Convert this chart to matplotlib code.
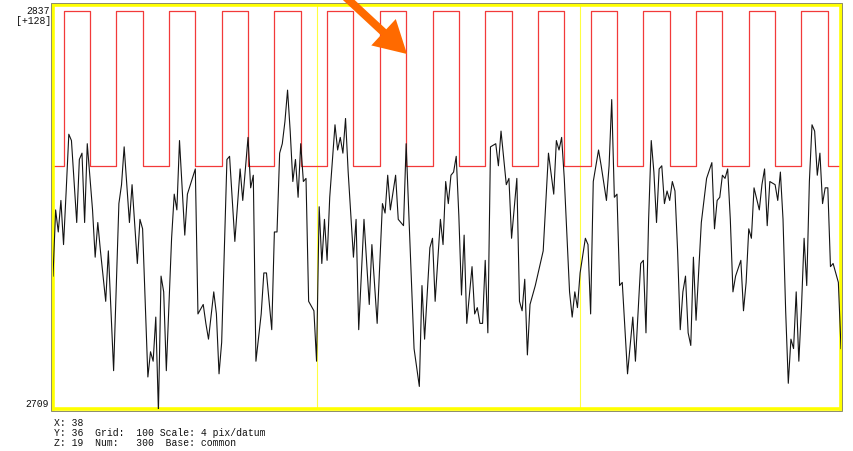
import matplotlib
matplotlib.use('Agg')
import matplotlib.pyplot as plt
from matplotlib.patches import FancyArrow, Rectangle

# Trace samples (datum index, value)
sample_idx = [0, 1, 2, 3, 4, 5, 6, 7, 9, 10, 11, 12, 13, 15, 16, 17, 18, 20, 21, 23,
              25, 26, 27, 29, 30, 32, 33, 34, 36, 37, 38, 39, 40, 41, 42, 43, 45, 46, 47, 48,
              50, 51, 54, 55, 57, 58, 59, 61, 62, 63, 64, 66, 67, 69, 71, 72, 74, 75, 76, 77,
              79, 80, 81, 83, 84, 85, 86, 87, 88, 89, 90, 91, 92, 93, 94, 95, 96, 97, 99, 100,
              101, 102, 103, 104, 105, 107, 108, 109, 110, 111, 112, 114, 115, 116, 118, 120, 121, 123, 125, 126,
              127, 128, 130, 131, 133, 134, 135, 137, 139, 140, 141, 143, 144, 145, 147, 148, 149, 150, 151, 152,
              153, 154, 155, 156, 157, 159, 160, 161, 162, 163, 164, 165, 166, 168, 169, 170, 172, 173, 174, 176,
              177, 178, 179, 180, 181, 183, 186, 188, 190, 191, 192, 193, 194, 196, 197, 198, 199, 200, 202, 203,
              204, 205, 207, 208, 210, 211, 212, 213, 214, 215, 216, 218, 220, 221, 223, 224, 225, 226, 227, 228,
              229, 230, 231, 232, 233, 234, 235, 236, 237, 238, 239, 240, 241, 242, 243, 244, 246, 248, 250, 251,
              252, 253, 254, 255, 256, 257, 258, 259, 261, 262, 263, 264, 265, 266, 268, 269, 270, 271, 272, 274,
              275, 276, 277, 278, 279, 280, 281, 282, 283, 284, 285, 286, 287, 288, 289, 290, 291, 292, 293, 294,
              295, 296, 298, 299]
sample_val = [2751, 2772, 2765, 2775, 2761, 2778, 2796, 2794, 2768, 2788, 2790, 2768, 2793, 2772, 2757, 2768, 2759, 2743, 2759, 2721,
              2774, 2780, 2792, 2768, 2780, 2755, 2769, 2766, 2719, 2727, 2724, 2738, 2708, 2751, 2746, 2721, 2763, 2777, 2772, 2794,
              2764, 2777, 2785, 2739, 2742, 2736, 2731, 2746, 2739, 2720, 2730, 2788, 2789, 2762, 2785, 2775, 2795, 2779, 2783, 2724,
              2739, 2752, 2752, 2734, 2765, 2765, 2790, 2793, 2800, 2810, 2797, 2781, 2788, 2776, 2793, 2781, 2782, 2743, 2740, 2724,
              2773, 2755, 2769, 2756, 2776, 2799, 2791, 2795, 2790, 2801, 2784, 2757, 2769, 2734, 2769, 2742, 2761, 2736, 2774, 2771,
              2783, 2772, 2783, 2769, 2767, 2793, 2771, 2728, 2716, 2748, 2731, 2760, 2763, 2743, 2769, 2761, 2781, 2774, 2783, 2784,
              2789, 2770, 2745, 2764, 2736, 2754, 2739, 2741, 2736, 2736, 2756, 2733, 2792, 2793, 2786, 2797, 2780, 2782, 2763, 2782,
              2743, 2740, 2750, 2726, 2742, 2748, 2759, 2790, 2777, 2794, 2791, 2795, 2782, 2746, 2738, 2746, 2741, 2752, 2763, 2761,
              2739, 2781, 2791, 2786, 2775, 2786, 2807, 2776, 2777, 2748, 2749, 2720, 2738, 2724, 2755, 2756, 2733, 2769, 2794, 2784,
              2768, 2785, 2786, 2774, 2778, 2775, 2781, 2778, 2759, 2734, 2746, 2751, 2733, 2729, 2757, 2737, 2768, 2782, 2787, 2766,
              2775, 2776, 2783, 2782, 2785, 2769, 2746, 2751, 2756, 2740, 2749, 2766, 2763, 2779, 2772, 2780, 2785, 2767, 2781, 2780,
              2775, 2784, 2769, 2740, 2717, 2731, 2728, 2746, 2724, 2741, 2763, 2748, 2781, 2799, 2797, 2783, 2790, 2774, 2779, 2779,
              2754, 2755, 2749, 2728]

# Reference square wave: datum indices where it goes high / low again
red_rise = [4, 24, 44, 64, 84, 104, 124, 144, 164, 184, 204, 224, 244, 264, 284]
red_fall = [14, 34, 54, 74, 94, 114, 134, 154, 174, 194, 214, 234, 254, 274, 294]
red_high = 2835
red_low = 2786

n_points = 300
y_top = 2837
y_base = 2709
grid_step = 100

info_x = 'X: 38'
info_y = 'Y: 36  Grid:  100 Scale: 4 pix/datum'
info_z = 'Z: 19  Num:   300  Base: common'

W, H = 854, 451
fig = plt.figure(figsize=(W / 100, H / 100), dpi=100)
fig.patch.set_facecolor('white')

# main trace area (pixel box 53..841 x 5..408.5)
ax = fig.add_axes([53 / W, (H - 408.5) / H, (841 - 53) / W, (408.5 - 5) / H])
ax.set_xlim(0, n_points - 1)
ax.set_ylim(y_base, y_top)

# square wave
rx = [0]
ry = [red_low]
for r, f in zip(red_rise, red_fall):
    rx += [r, r, f, f]
    ry += [red_low, red_high, red_high, red_low]
rx.append(n_points - 1)
ry.append(red_low)
ax.plot(rx, ry, color='#f23a3a', lw=0.9, zorder=2)

# signal
ax.plot(sample_idx, sample_val, color='#141414', lw=0.8, zorder=3)

# grid and frame
ax.set_xticks(range(grid_step, n_points, grid_step))
ax.set_yticks([])
ax.tick_params(axis='x', length=0, labelbottom=False)
ax.grid(True, axis='x', color='#ffff40', lw=0.8)
for s in ax.spines.values():
    s.set_color('#ffff00')
    s.set_linewidth(2.6)

# overlay in pixel units for labels, outline and arrow
ov = fig.add_axes([0, 0, 1, 1], zorder=5)
ov.set_xlim(0, W)
ov.set_ylim(H, 0)
ov.axis('off')
ov.patch.set_alpha(0)

ov.add_patch(Rectangle((51, 2.5), 791.5, 408, fill=False, ec='#8c8c6c', lw=0.7))

mono = dict(family='Liberation Mono', fontsize=7, color='#111111')
ov.text(49.5, 11.5, str(y_top), ha='right', va='center', **mono)
ov.text(51.5, 21.5, '[+%d]' % (y_top - y_base), ha='right', va='center', **mono)
ov.text(48.5, 404, str(y_base), ha='right', va='center', **mono)

ov.text(54, 422.7, info_x, ha='left', va='center', **mono)
ov.text(54, 432.7, info_y, ha='left', va='center', **mono)
ov.text(54, 442.7, info_z, ha='left', va='center', **mono)

# orange pointer arrow
ov.add_patch(FancyArrow(338, -10, 69, 64, width=8, head_width=36, head_length=32,
                        length_includes_head=True, color='#ff6a00', lw=0))

fig.savefig('out.png', dpi=100)
